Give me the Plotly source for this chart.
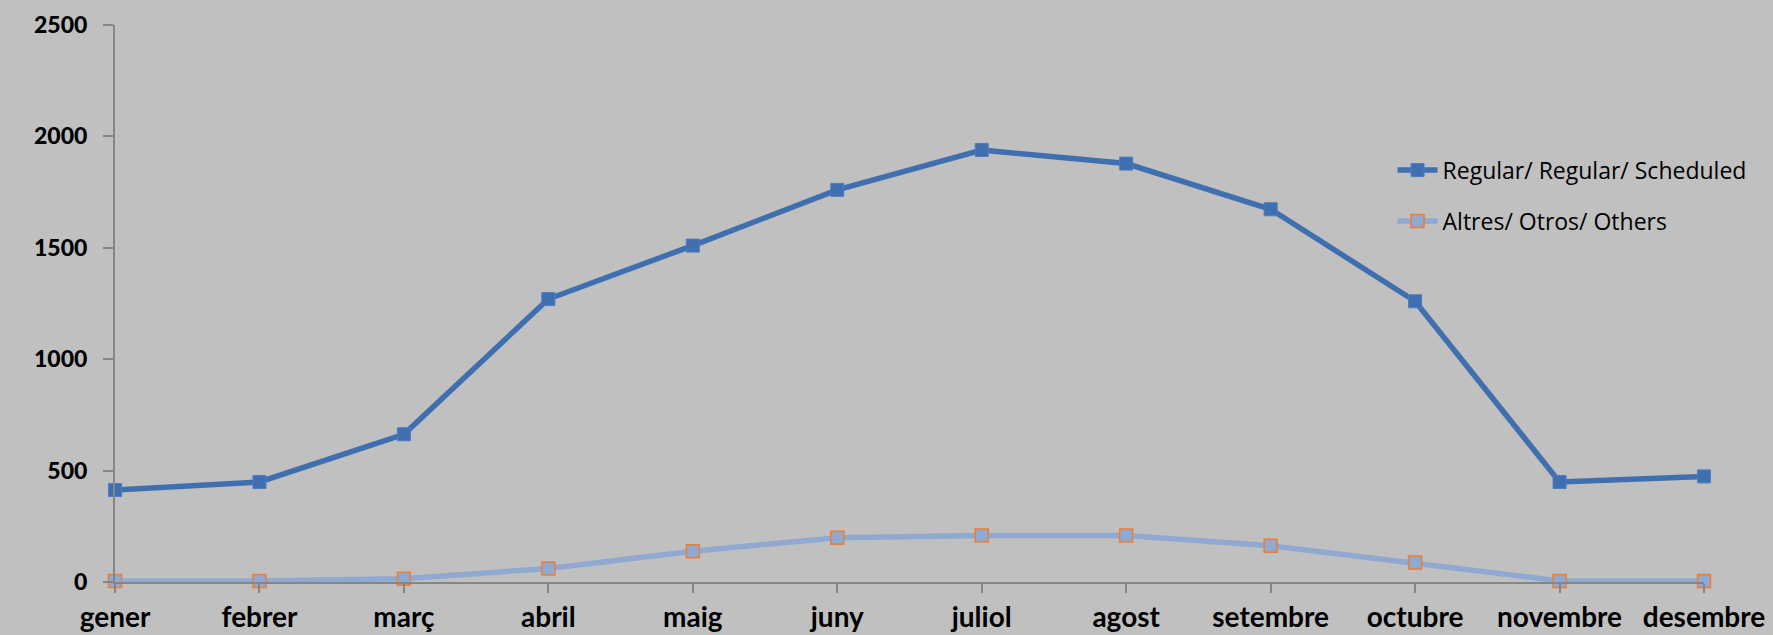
import plotly.graph_objects as go

# Monthly values
months = ["gener", "febrer", "març", "abril", "maig", "juny",
          "juliol", "agost", "setembre", "octubre", "novembre", "desembre"]
regular = [413, 449, 663, 1270, 1510, 1760, 1939, 1878, 1673, 1260, 449, 474]
others = [5, 5, 15, 61, 138, 199, 209, 209, 163, 87, 5, 5]

FONT = "Lato, 'Open Sans', sans-serif"

fig = go.Figure()

fig.add_trace(go.Scatter(
    x=months, y=regular,
    name="Regular/ Regular/ Scheduled",
    legendgroup="a",
    mode="lines+markers",
    line=dict(color="#3F6FAF", width=5.5),
    marker=dict(symbol="square", size=13, color="#3F6FAF",
                line=dict(color="#4A7CC9", width=1)),
    cliponaxis=False,
))

fig.add_trace(go.Scatter(
    x=months, y=others,
    name="Altres/ Otros/ Others",
    legendgroup="b",
    mode="lines+markers",
    line=dict(color="#90A9D0", width=5.5),
    marker=dict(symbol="square", size=13, color="#90A9D0",
                line=dict(color="#ED7D31", width=1.5)),
    cliponaxis=False,
))

fig.update_layout(
    width=1773, height=635,
    margin=dict(l=115, r=69, t=25, b=53),
    paper_bgcolor="#C0C0C0",
    plot_bgcolor="#C0C0C0",
    font=dict(family=FONT, color="black"),
    legend=dict(
        x=0.804, y=0.778, xanchor="left", yanchor="top",
        bgcolor="rgba(0,0,0,0)",
        font=dict(size=23, family="'Open Sans', sans-serif"),
        itemwidth=40,
        tracegroupgap=18,
    ),
    xaxis=dict(
        type="category",
        range=[0, 11],
        automargin=False,
        showgrid=False,
        showline=True, linecolor="#868686", linewidth=2,
        ticks="outside", ticklen=9, tickcolor="#868686", tickwidth=2,
        tickfont=dict(size=28, family=FONT, weight="bold"),
        ticklabelstandoff=0,
        zeroline=False,
    ),
    yaxis=dict(
        range=[0, 2500], dtick=500,
        automargin=False,
        showgrid=False,
        showline=True, linecolor="#868686", linewidth=2,
        ticks="outside", ticklen=10, tickcolor="#868686", tickwidth=2,
        tickfont=dict(size=23, family=FONT, weight=900),
        ticklabelstandoff=11,
        zeroline=False,
    ),
)

fig.write_html("out.html", config={"displayModeBar": False},
               post_script="document.body.style.margin='0';")
